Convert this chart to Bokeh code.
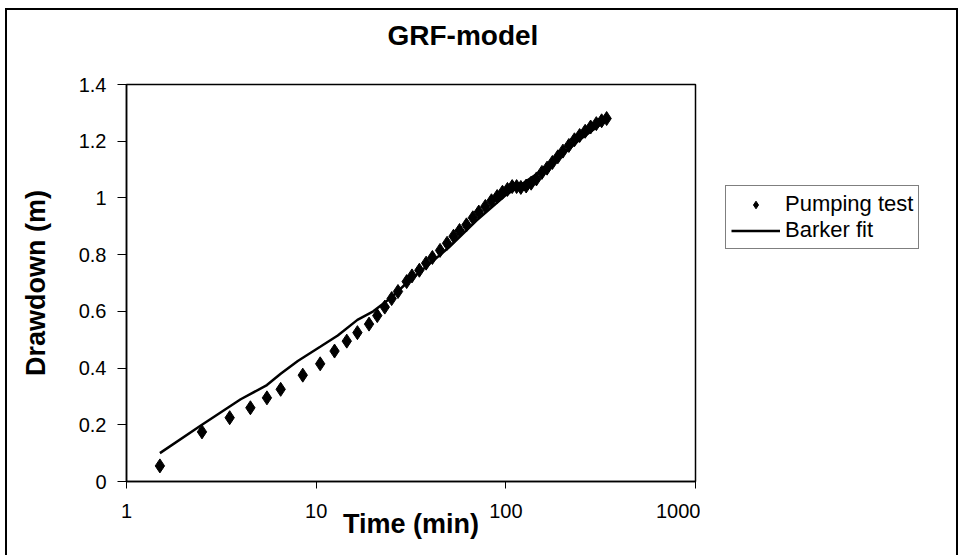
import numpy as np
from bokeh.plotting import figure
from bokeh.layouts import row
from bokeh.models import FixedTicker, Legend, LegendItem, Title
from bokeh.embed import file_html
from bokeh.resources import INLINE

# ---- data ----
pump_time = [1.5, 2.5, 3.5, 4.5, 5.5, 6.5, 8.5, 10.5, 12.5, 14.5, 16.5,
             19, 21, 23, 25, 27, 30, 32, 35, 38, 41, 45, 49, 53, 57, 62,
             67, 72, 78, 84, 90, 96, 102, 108, 114, 120, 128, 136, 145, 155,
             165, 176, 188, 200, 215, 230, 245, 262, 280, 300, 320, 340]
pump_drawdown = [0.055, 0.175, 0.225, 0.26, 0.295, 0.325, 0.375, 0.415, 0.46, 0.495, 0.525,
                 0.555, 0.585, 0.615, 0.645, 0.67, 0.705, 0.725, 0.745, 0.77, 0.79, 0.815,
                 0.84, 0.865, 0.885, 0.905, 0.93, 0.95, 0.97, 0.99, 1.005, 1.02, 1.03,
                 1.04, 1.04, 1.037, 1.042, 1.052, 1.067, 1.09, 1.105, 1.125, 1.145, 1.165,
                 1.185, 1.205, 1.22, 1.235, 1.25, 1.262, 1.272, 1.28]

fit_time = [1.5, 2.5, 4, 5.5, 6.5, 8, 10.5, 13, 16.5, 20, 25, 30, 40, 50, 70,
            100, 150, 200, 250, 340]
fit_drawdown = [0.10, 0.20, 0.29, 0.34, 0.38, 0.425, 0.475, 0.515, 0.57, 0.60, 0.65,
                0.70, 0.77, 0.825, 0.92, 1.01, 1.09, 1.155, 1.21, 1.275]

x_ticks = [1, 10, 100, 1000]
x_tick_labels = ["1", "10", "100", "1000"]
y_ticks = [0, 0.2, 0.4, 0.6, 0.8, 1.0, 1.2, 1.4]
y_tick_labels = ["0", "0.2", "0.4", "0.6", "0.8", "1", "1.2", "1.4"]

FONT = "Liberation Sans"

p = figure(width=700, height=555, x_axis_type="log",
           x_range=(x_ticks[0], x_ticks[-1]), y_range=(y_ticks[0], y_ticks[-1]),
           output_backend="svg", toolbar_location=None,
           min_border_left=126, min_border_right=5,
           min_border_top=84, min_border_bottom=74)

# real title (outermost) and a blank spacer title next to the plot area
p.title.text = "GRF-model"
p.title.text_font = FONT
p.title.text_font_size = "28px"
p.title.text_font_style = "bold"
p.title.align = "left"
p.title.offset = 261
p.title.standoff = 21
p.title.text_color = "black"
p.add_layout(Title(text=" ", text_font_size="1px", standoff=20), "above")

p.grid.visible = False
p.outline_line_color = "black"
p.outline_line_width = 1.5
p.background_fill_color = "white"
p.border_fill_alpha = 0

# x axis
xa = p.xaxis[0]
xa.ticker = FixedTicker(ticks=x_ticks, minor_ticks=[])
xa.major_label_overrides = {t: s for t, s in zip(x_ticks, x_tick_labels)}
xa.axis_label = "Time (min)"
xa.axis_label_text_font = FONT
xa.axis_label_text_font_size = "27px"
xa.axis_label_text_font_style = "bold"
xa.axis_label_standoff = -12
xa.major_label_text_font = FONT
xa.major_label_text_font_size = "20px"
xa.major_label_standoff = 15
xa.major_tick_out = 7
xa.major_tick_in = 0
xa.minor_tick_out = 0
xa.minor_tick_in = 0
xa.axis_line_width = 1.5

# y axis
ya = p.yaxis[0]
ya.ticker = FixedTicker(ticks=y_ticks, minor_ticks=[])
ya.major_label_overrides = {t: s for t, s in zip(y_ticks, y_tick_labels)}
ya.axis_label = "Drawdown (m)"
ya.axis_label_text_font = FONT
ya.axis_label_text_font_size = "27px"
ya.axis_label_text_font_style = "bold"
ya.axis_label_standoff = 25
ya.major_label_text_font = FONT
ya.major_label_text_font_size = "20px"
ya.major_label_standoff = 11
ya.major_tick_out = 9
ya.major_tick_in = 0
ya.minor_tick_out = 0
ya.minor_tick_in = 0
ya.axis_line_width = 1.5

for ax in (xa, ya):
    ax.axis_line_color = "black"
    ax.major_tick_line_color = "black"
    ax.major_label_text_color = "black"
    ax.axis_label_text_color = "black"

MARKER = dict(marker="diamond", size=14, fill_color="black", line_color="black")
LINE = dict(line_color="black", line_width=2.5)

p.line(fit_time, fit_drawdown, **LINE)
p.scatter(pump_time, pump_drawdown, **MARKER)

# legend panel to the right of the plot area (its own series copies fall
# outside this panel's range, so only the legend is visible here)
q = figure(width=258, height=555, x_range=(-1, 0), y_range=(-1, 0),
           output_backend="svg", toolbar_location=None,
           min_border_left=0, min_border_right=0, min_border_top=0, min_border_bottom=0)
q.axis.visible = False
q.grid.visible = False
q.outline_line_color = None
q.background_fill_alpha = 0
q.border_fill_alpha = 0
leg_pump = q.scatter(pump_time, pump_drawdown, **MARKER)
leg_fit = q.line(fit_time, fit_drawdown, **LINE)

legend = Legend(items=[LegendItem(label="Pumping test", renderers=[leg_pump]),
                       LegendItem(label="Barker fit", renderers=[leg_fit])],
                location=(25, 232), orientation="vertical",
                label_text_font=FONT, label_text_font_size="22px",
                label_text_line_height=0.85, label_height=19,
                label_text_color="black",
                glyph_width=49, glyph_height=19, label_standoff=5,
                padding=5, spacing=0, margin=0,
                border_line_color="black", border_line_width=1.2,
                background_fill_color="white", background_fill_alpha=1.0)
q.add_layout(legend, "center")

layout = row(p, q)
layout.styles = {"box-shadow": "inset 5px 8px 0px 0px white, inset 7px 10px 0px 0px black, "
                               "inset -2px 0px 0px 0px black"}

open("out.html", "w").write(file_html(layout, INLINE))
